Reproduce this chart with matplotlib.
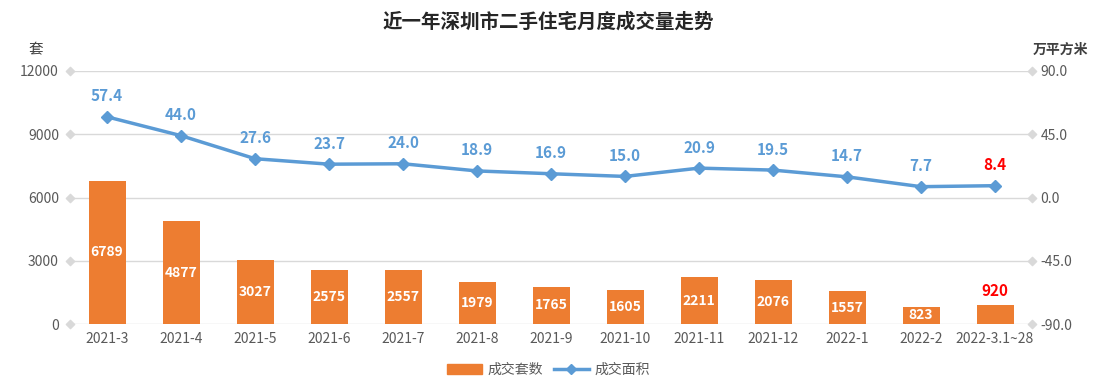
import matplotlib.pyplot as plt
import numpy as np

plt.rcParams['font.family'] = ['Noto Sans CJK SC', 'DejaVu Sans']

months = ["2021-3", "2021-4", "2021-5", "2021-6", "2021-7", "2021-8", "2021-9",
          "2021-10", "2021-11", "2021-12", "2022-1", "2022-2", "2022-3.1~28"]
units = [6789, 4877, 3027, 2575, 2557, 1979, 1765, 1605, 2211, 2076, 1557, 823, 920]
area = [57.4, 44.0, 27.6, 23.7, 24.0, 18.9, 16.9, 15.0, 20.9, 19.5, 14.7, 7.7, 8.4]

BAR = "#ED7D31"
LINE = "#5B9BD5"
GRID = "#D9D9D9"
TXT = "#595959"

fig = plt.figure(figsize=(10.97, 3.83), dpi=100)
ax = fig.add_axes([70/1097, 1 - 324/383, 962/1097, 253/383])
ax2 = ax.twinx()

x = np.arange(len(months))
ax.bar(x, units, width=0.5, color=BAR, zorder=2)
ax.set_xlim(-0.5, len(months) - 0.5)
ax.set_ylim(0, 12000)
yt = [0, 3000, 6000, 9000, 12000]
ax.set_yticks(yt)
ax.set_xticks(x)
ax.set_xticklabels(months)
for v in yt:
    ax.axhline(v, color=GRID, lw=1, zorder=0)
ax.scatter([-0.5] * len(yt), yt, marker="D", s=18, color=GRID, clip_on=False, zorder=3)
ax.scatter([len(months) - 0.5] * len(yt), yt, marker="D", s=18, color=GRID, clip_on=False, zorder=3)

for i, v in enumerate(units):
    if i == len(units) - 1:
        ax.text(i, v + 250, str(v), ha="center", va="bottom", color="#FF0000",
                fontsize=11, fontweight="bold")
    else:
        ax.text(i, v / 2, str(v), ha="center", va="center", color="white",
                fontsize=10, fontweight="bold")

ax2.plot(x, area, color=LINE, lw=2.5, marker="D", ms=6, zorder=4)
ax2.set_ylim(-90, 90)
ax2.set_yticks([-90, -45, 0, 45, 90])
ax2.set_yticklabels(["-90.0", "-45.0", "0.0", "45.0", "90.0"])
for i, v in enumerate(area):
    c = "#FF0000" if i == len(area) - 1 else LINE
    ax2.annotate(f"{v:.1f}", (i, v), xytext=(0, 9), textcoords="offset points",
                 ha="center", va="bottom", color=c, fontsize=11, fontweight="bold")

for a in (ax, ax2):
    for s in a.spines.values():
        s.set_visible(False)
    a.tick_params(length=0, labelsize=10, colors=TXT)
ax.tick_params(axis="y", pad=8)
ax2.tick_params(axis="y", pad=6)
ax.tick_params(axis="x", pad=6)

fig.text(36/1097, 1 - 50/383, "套", ha="center", va="center", fontsize=10.5, color="#404040")
fig.text(1060/1097, 1 - 50/383, "万平方米", ha="center", va="center", fontsize=10,
         color="#404040", fontweight="bold")
fig.text(0.5, 1 - 22/383, "近一年深圳市二手住宅月度成交量走势", ha="center", va="center",
         fontsize=14, fontweight="bold", color="#262626")

h1 = plt.Rectangle((0, 0), 1, 1, color=BAR)
h2 = plt.Line2D([], [], color=LINE, lw=2.5, marker="D", ms=5)
fig.legend([h1, h2], ["成交套数", "成交面积"], loc="center", bbox_to_anchor=(0.5, 1 - 370/383),
           ncol=2, frameon=False, fontsize=10, handlelength=2.5, columnspacing=0.8,
           handletextpad=0.4, labelcolor=TXT)

fig.savefig("out.png", dpi=100)
